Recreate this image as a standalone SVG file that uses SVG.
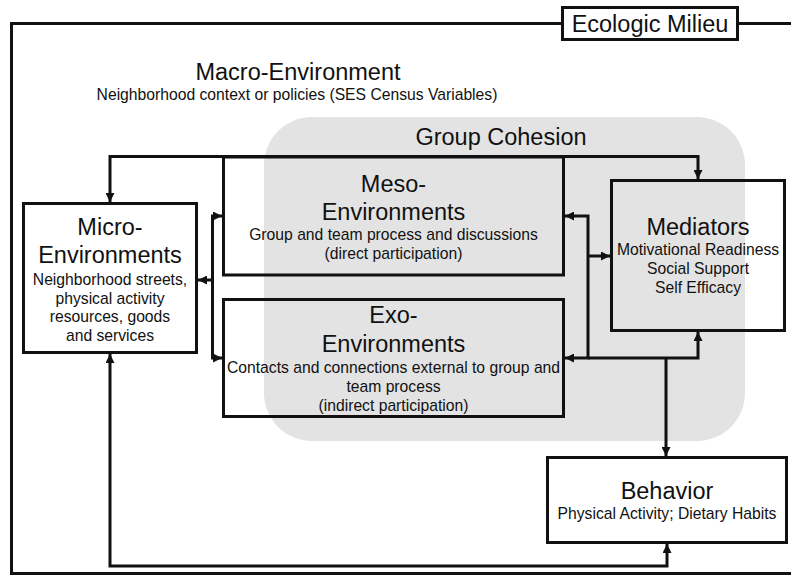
<svg xmlns="http://www.w3.org/2000/svg" width="791" height="577" viewBox="0 0 791 577">
<style>
text{font-family:"Liberation Sans",Arial,sans-serif;fill:#111;text-anchor:middle}
.t{font-size:23.5px}
.s{font-size:15.7px}
.box{fill:none;stroke:#111;stroke-width:3}
.ln{fill:none;stroke:#111;stroke-width:3}
</style>
<defs>
<marker id="ah" viewBox="0 0 10 10" refX="10" refY="5" markerUnits="userSpaceOnUse" markerWidth="9" markerHeight="9" orient="auto-start-reverse">
<path d="M0,0 L10,5 L0,10 z" fill="#111"/>
</marker>
</defs>
<rect width="791" height="577" fill="#fff"/>
<g id="milieu">
<rect x="11.5" y="23.5" width="800" height="550" class="box"/>
<rect x="562.5" y="7.5" width="175" height="32" fill="#fff" stroke="#111" stroke-width="3"/>
<text x="650" y="32" class="t">Ecologic Milieu</text>
</g>
<g id="macro">
<text x="298" y="80" class="t">Macro-Environment</text>
<text x="297" y="100" class="s">Neighborhood context or policies (SES Census Variables)</text>
</g>
<g id="cohesion">
<rect x="264" y="117" width="481" height="324" rx="48" fill="#e3e3e3"/>
<text x="501" y="145" class="t">Group Cohesion</text>
</g>
<g id="connectors">
<path class="ln" d="M110,202 V156.5 H698 V179" marker-start="url(#ah)" marker-end="url(#ah)"/>
<path class="ln" d="M222,216 H212.5 V358 H222" marker-start="url(#ah)" marker-end="url(#ah)"/>
<path class="ln" d="M212.5,280 H198" marker-end="url(#ah)"/>
<path class="ln" d="M565,216 H588 V358 H565" marker-start="url(#ah)" marker-end="url(#ah)"/>
<path class="ln" d="M588,256 H610" marker-end="url(#ah)"/>
<path class="ln" d="M588,358 H698 V332" marker-end="url(#ah)"/>
<path class="ln" d="M666,358 V456" marker-end="url(#ah)"/>
<path class="ln" d="M110,354 V566 H667 V544" marker-start="url(#ah)" marker-end="url(#ah)"/>
</g>
<g id="micro">
<rect x="23.5" y="203.5" width="173" height="149" class="box"/>
<text x="110" y="235" class="t">Micro-</text>
<text x="110" y="263" class="t">Environments</text>
<text x="110" y="285" class="s">Neighborhood streets,</text>
<text x="110" y="303.5" class="s">physical activity</text>
<text x="110" y="322" class="s">resources, goods</text>
<text x="110" y="340.5" class="s">and services</text>
</g>
<g id="meso">
<rect x="223.5" y="157" width="340" height="118" class="box"/>
<text x="393.5" y="192" class="t">Meso-</text>
<text x="393.5" y="220" class="t">Environments</text>
<text x="393.5" y="240" class="s">Group and team process and discussions</text>
<text x="393.5" y="259" class="s">(direct participation)</text>
</g>
<g id="exo">
<rect x="223.5" y="299.5" width="340" height="117" class="box"/>
<text x="393.5" y="323" class="t">Exo-</text>
<text x="393.5" y="352" class="t">Environments</text>
<text x="393.5" y="373" class="s">Contacts and connections external to group and</text>
<text x="393.5" y="392" class="s">team process</text>
<text x="393.5" y="411" class="s">(indirect participation)</text>
</g>
<g id="mediators">
<rect x="611.5" y="180.5" width="173" height="150" class="box"/>
<text x="698" y="235" class="t">Mediators</text>
<text x="698" y="255" class="s">Motivational Readiness</text>
<text x="698" y="274" class="s">Social Support</text>
<text x="698" y="293" class="s">Self Efficacy</text>
</g>
<g id="behavior">
<rect x="547.5" y="457.5" width="239" height="85" class="box"/>
<text x="667" y="499" class="t">Behavior</text>
<text x="667" y="519" class="s">Physical Activity; Dietary Habits</text>
</g>
</svg>
